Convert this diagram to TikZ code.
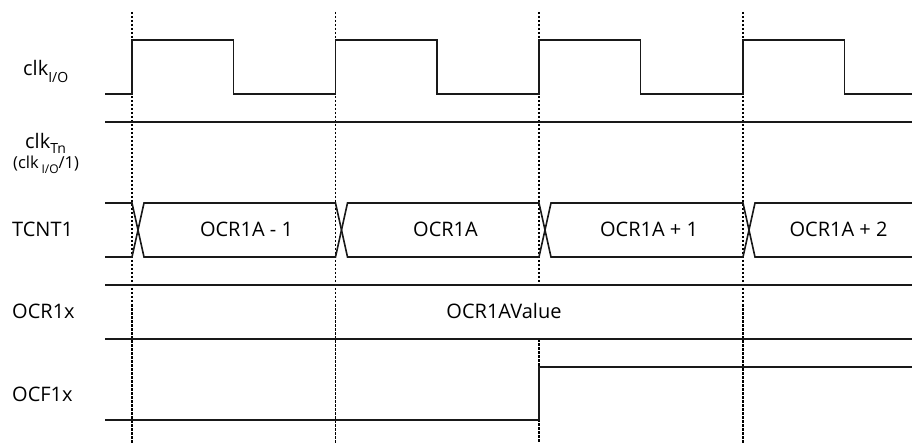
\documentclass[tikz,border=0pt]{standalone}
\usepackage{fontspec}
\setmainfont{Open Sans}
\newcommand{\lowsub}[2][-0.33em]{\raisebox{#1}{\fontsize{14}{14}\selectfont #2}}
\begin{document}
\begin{tikzpicture}[x=1pt,y=-1pt,
  sig/.style={line width=1.6pt, line join=miter, color=black!90},
  guide/.style={line width=1.15pt, dash pattern=on 2.5pt off 1.5pt, color=black},
  lbl/.style={anchor=base west, inner sep=0pt, font=\fontsize{20}{24}\selectfont, text=black},
  small/.style={anchor=base west, inner sep=0pt, font=\fontsize{16.5}{20}\selectfont, text=black},
  val/.style={anchor=base, inner sep=0pt, font=\fontsize{20}{24}\selectfont, text=black}]
\useasboundingbox (0,0) rectangle (912,443);
\fill[white] (0,0) rectangle (912,443);

% edge positions
\foreach \n/\x in {e1/132,e2/335.5,e4/743}{
  \coordinate (\n top) at (\x,12);
  \coordinate (\n bot) at (\x,443);
  \draw[guide] (\n top) -- (\n bot);
}
\coordinate (e3top) at (539,12);
\coordinate (e3a) at (539,285);
\coordinate (e3b) at (539,339);
\coordinate (e3bot) at (539,443);
\draw[guide] (e3top) -- (e3a);
\draw[guide] (e3b) -- (e3bot);

% clk I/O
\draw[sig] (105,94) -- (132,94) -- (132,40) -- (233.5,40) -- (233.5,94) -- (335.5,94)
  -- (335.5,40) -- (437,40) -- (437,94) -- (539,94) -- (539,40) -- (640.5,40) -- (640.5,94)
  -- (743,94) -- (743,40) -- (844.5,40) -- (844.5,94) -- (912,94);

% clk Tn
\draw[sig] (105,122) -- (912,122);

% TCNT1 bus
\draw[sig] (105,203) -- (132,203) -- (144,257) -- (335.5,257) -- (347.5,203) -- (539,203)
  -- (551,257) -- (743,257) -- (755,203) -- (912,203);
\draw[sig] (105,257) -- (132,257) -- (144,203) -- (335.5,203) -- (347.5,257) -- (539,257)
  -- (551,203) -- (743,203) -- (755,257) -- (912,257);

% OCR1x
\draw[sig] (105,285) -- (912,285);
\draw[sig] (105,339) -- (912,339);

% OCF1x
\draw[sig] (105,420) -- (539,420) -- (539,367) -- (912,367);

% signal names
\node[lbl] (nclkio) at (23,76) {clk\lowsub{I/O}};
\node[lbl] (nclktn) at (25,149) {clk\lowsub[-0.22em]{Tn}};
\node[small] (nclkdiv) at (13,169) {(clk\,\raisebox{-0.3em}{\fontsize{12}{12}\selectfont I/O}/1)};
\node[lbl] (ntcnt) at (12,237) {TCNT1};
\node[lbl] (nocr) at (12,318.5) {OCR1x};
\node[lbl] (nocf) at (12,401.5) {OCF1x};

% values
\node[val] (v1) at (246.5,237) {OCR1A - 1};
\node[val] (v2) at (445.5,237) {OCR1A};
\node[val] (v3) at (649,237) {OCR1A + 1};
\node[val] (v4) at (838.5,237) {OCR1A + 2};
\node[val] (v5) at (504,318) {OCR1AValue};
\end{tikzpicture}
\end{document}
